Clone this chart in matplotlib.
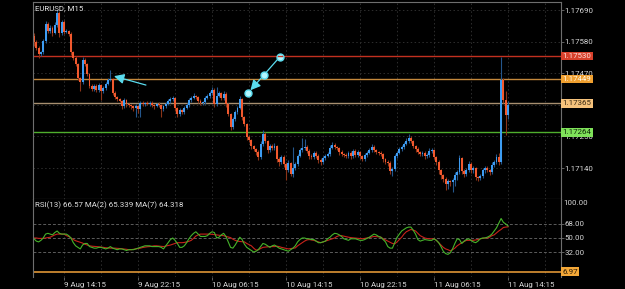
import numpy as np
import matplotlib
matplotlib.use("Agg")
import matplotlib.pyplot as plt
import matplotlib.transforms as mtransforms

plt.rcParams["font.family"] = ["Roboto", "DejaVu Sans"]

# ---- data (EURUSD M15) ----
first_open = 1.17600
closes = [
    1.17579, 1.17558, 1.17537, 1.17544, 1.17582, 1.17641, 1.17617, 1.17628, 1.17610, 1.17638, 1.17680, 1.17610, 1.17648, 1.17614, 1.17617, 1.17607,
    1.17544, 1.17523, 1.17502, 1.17454, 1.17440, 1.17516, 1.17502, 1.17467, 1.17426, 1.17415, 1.17426, 1.17412, 1.17429, 1.17408, 1.17419, 1.17433,
    1.17447, 1.17450, 1.17401, 1.17387, 1.17380, 1.17374, 1.17356, 1.17377, 1.17363, 1.17360, 1.17356, 1.17349, 1.17356, 1.17346, 1.17367, 1.17363,
    1.17367, 1.17363, 1.17367, 1.17360, 1.17356, 1.17363, 1.17360, 1.17346, 1.17356, 1.17363, 1.17374, 1.17380, 1.17384, 1.17349, 1.17328, 1.17342,
    1.17335, 1.17349, 1.17360, 1.17377, 1.17384, 1.17391, 1.17387, 1.17374, 1.17367, 1.17370, 1.17384, 1.17391, 1.17401, 1.17412, 1.17363, 1.17391,
    1.17401, 1.17384, 1.17398, 1.17363, 1.17328, 1.17283, 1.17311, 1.17335, 1.17349, 1.17380, 1.17318, 1.17293, 1.17248, 1.17238, 1.17217, 1.17206,
    1.17196, 1.17179, 1.17224, 1.17259, 1.17234, 1.17203, 1.17217, 1.17210, 1.17217, 1.17172, 1.17161, 1.17179, 1.17154, 1.17133, 1.17158, 1.17119,
    1.17140, 1.17154, 1.17182, 1.17203, 1.17210, 1.17213, 1.17200, 1.17182, 1.17179, 1.17193, 1.17182, 1.17168, 1.17161, 1.17175, 1.17182, 1.17189,
    1.17210, 1.17220, 1.17213, 1.17210, 1.17196, 1.17189, 1.17186, 1.17182, 1.17193, 1.17182, 1.17200, 1.17186, 1.17196, 1.17182, 1.17172, 1.17186,
    1.17193, 1.17203, 1.17213, 1.17203, 1.17196, 1.17193, 1.17189, 1.17172, 1.17161, 1.17158, 1.17130, 1.17137, 1.17182, 1.17193, 1.17206, 1.17213,
    1.17224, 1.17234, 1.17245, 1.17234, 1.17217, 1.17206, 1.17196, 1.17189, 1.17193, 1.17182, 1.17186, 1.17200, 1.17203, 1.17179, 1.17161, 1.17133,
    1.17116, 1.17102, 1.17085, 1.17095, 1.17092, 1.17099, 1.17116, 1.17126, 1.17175, 1.17130, 1.17119, 1.17133, 1.17154, 1.17133, 1.17140, 1.17109,
    1.17106, 1.17113, 1.17133, 1.17140, 1.17133, 1.17126, 1.17151, 1.17161, 1.17179, 1.17161, 1.17447, 1.17377, 1.17325, 1.17360,
]
# wick lengths beyond the body, in points (0.00001)
wick_up = [
    10, 6, 8, 5, 6, 12, 8, 10, 6, 9, 10, 5, 8, 6, 7, 5,
    6, 5, 8, 5, 4, 9, 6, 5, 4, 6, 5, 8, 6, 4, 7, 6,
    8, 31, 5, 6, 4, 5, 4, 8, 5, 4, 3, 5, 6, 4, 7, 5,
    4, 6, 5, 7, 4, 5, 6, 4, 5, 6, 7, 8, 7, 5, 4, 6,
    5, 6, 8, 7, 6, 9, 5, 4, 6, 5, 7, 6, 8, 10, 6, 31,
    7, 5, 9, 6, 5, 4, 8, 6, 7, 10, 5, 4, 3, 6, 4, 5,
    4, 6, 9, 12, 8, 5, 7, 6, 9, 5, 6, 8, 5, 6, 9, 4,
    73, 6, 8, 7, 35, 30, 9, 5, 6, 8, 5, 6, 7, 6, 8, 7,
    9, 12, 6, 5, 4, 6, 5, 7, 6, 5, 8, 6, 7, 5, 4, 6,
    7, 8, 10, 6, 5, 4, 6, 5, 4, 6, 5, 7, 8, 6, 9, 7,
    8, 10, 12, 6, 5, 4, 6, 5, 7, 5, 6, 9, 8, 5, 4, 6,
    5, 4, 6, 7, 5, 8, 9, 6, 12, 5, 6, 8, 9, 6, 7, 5,
    4, 6, 8, 7, 6, 5, 9, 8, 10, 12, 80, 5, 30, 12,
]
wick_dn = [
    15, 8, 14, 6, 8, 5, 7, 6, 9, 5, 6, 15, 6, 8, 5, 6,
    10, 6, 7, 8, 32, 6, 5, 8, 6, 7, 5, 6, 8, 30, 5, 6,
    5, 4, 8, 6, 7, 5, 9, 6, 10, 8, 12, 9, 31, 14, 28, 6,
    8, 5, 7, 6, 9, 5, 8, 28, 6, 7, 5, 8, 6, 9, 10, 7,
    8, 6, 5, 7, 6, 5, 8, 6, 9, 7, 6, 5, 6, 5, 12, 6,
    5, 8, 6, 9, 7, 10, 8, 6, 7, 5, 9, 8, 10, 7, 9, 8,
    10, 12, 8, 6, 7, 9, 8, 7, 6, 10, 12, 8, 9, 34, 7, 8,
    10, 8, 6, 5, 7, 6, 8, 9, 7, 6, 8, 10, 9, 7, 6, 5,
    6, 5, 8, 7, 9, 6, 8, 7, 6, 9, 7, 8, 6, 9, 8, 7,
    6, 5, 7, 8, 6, 9, 7, 10, 8, 9, 12, 17, 8, 6, 5, 7,
    6, 5, 7, 8, 6, 9, 7, 8, 6, 9, 7, 6, 8, 9, 10, 12,
    14, 12, 21, 18, 15, 34, 20, 16, 8, 10, 9, 7, 8, 10, 9, 12,
    10, 8, 7, 9, 8, 10, 7, 6, 8, 9, 6, 10, 70, 15,
]
rsi_ma2 = [
    49, 46, 45, 47, 50, 55, 56, 55, 54, 57, 59, 56, 55, 55, 55, 53,
    50, 44, 40, 38, 36, 41, 43, 43, 39, 38, 37, 37, 38, 38, 37, 36,
    37, 39, 37, 36, 35, 36, 36, 35, 34, 35, 35, 35, 36, 37, 38, 39,
    40, 40, 40, 39, 39, 39, 39, 38, 36, 40, 44, 48, 50, 47, 43, 38,
    38, 40, 44, 49, 53, 56, 58, 55, 52, 52, 52, 53, 56, 58, 57, 50,
    51, 54, 56, 52, 45, 38, 37, 41, 46, 51, 48, 42, 38, 36, 34, 32,
    33, 35, 39, 43, 42, 40, 38, 40, 41, 39, 37, 36, 35, 34, 33, 35,
    37, 40, 45, 48, 50, 50, 49, 49, 48, 48, 46, 44, 44, 45, 46, 49,
    51, 54, 56, 55.5, 54, 52, 49, 48, 47, 49, 49, 49, 48, 47, 47, 48,
    49.5, 51, 53, 55, 54, 52, 51, 48, 45, 39, 37, 37, 44, 51, 55, 59,
    61, 63, 64, 64, 60, 55, 48, 46, 47, 48, 47.5, 47, 47, 49, 47, 44,
    39, 33, 30, 29, 31, 36, 43, 49, 48, 43, 46, 48, 49, 47, 45, 44,
    46, 49, 50, 50, 51, 52.5, 55, 59, 63, 69, 75, 70, 68, 65.34,
]
rsi_ma7 = [
    50, 50, 49.5, 49.5, 49.5, 50, 50.5, 51, 52.5, 54, 55, 55, 55, 55, 53, 52,
    50, 48, 46.5, 45.5, 44.5, 43.5, 42, 41, 40, 39.5, 39.3, 39, 38.7, 38.3, 38, 37.5,
    37.2, 37, 37, 37, 36.8, 36.5, 36.2, 36, 35.5, 35, 35, 35.5, 36, 36.5, 37, 37.8,
    38.3, 38.8, 39, 39.5, 40, 40, 39.6, 39.3, 39, 39.7, 40.5, 41, 42, 43, 44, 44,
    44, 44.3, 45, 45.7, 47, 49.5, 52.5, 54, 55, 55, 55, 55, 55, 54.7, 54.3, 54,
    53.5, 53.3, 53, 52, 51.3, 50.5, 48.5, 47, 46, 45.5, 45.3, 45, 43, 41.5, 40, 37,
    34.5, 35, 36.5, 38, 38.3, 38.7, 39, 39, 39, 39.5, 39, 38, 37.3, 36.5, 36, 36.4,
    36.8, 37.3, 40, 42, 44, 46, 47.5, 48, 47.5, 47, 46, 45, 44, 45, 46, 47,
    48, 49, 50, 52, 53, 53, 52.3, 51.5, 51, 50.5, 50.2, 50, 49.6, 49.2, 49, 49.5,
    50, 50.5, 51.3, 52, 51.8, 51.5, 51, 49, 47.5, 46, 44.5, 43, 42.5, 45, 48, 51,
    55, 58, 59.5, 61, 60, 59, 56, 53, 51.5, 50, 49.3, 49, 49, 49, 47, 44,
    41, 38, 36, 35, 33.5, 35, 37, 40, 42, 44, 45.5, 47, 47, 47, 47, 47.5,
    48, 49, 49.5, 50, 50, 51, 53, 54, 56.5, 59, 61, 63.5, 64, 64.32,
]

time_ticks = [13, 45, 77, 109, 141, 173, 205]
time_labels = ["9 Aug 14:15", "9 Aug 22:15", "10 Aug 06:15", "10 Aug 14:15",
               "10 Aug 22:15", "11 Aug 06:15", "11 Aug 14:15"]
price_ticks = [1.17690, 1.17580, 1.17470, 1.17360, 1.17250, 1.17140]
levels = [1.17530, 1.17449, 1.17365, 1.17264]
rsi_levels = [68, 50, 32]
rsi_extra = 6.97

# drawn objects (candle index, price)
arrow_tip = (34.6, 1.17460)
arrow_tail = (48.4, 1.17429)
trend_pts_x = [92.4, 99.3, 106.4]
trend_pts_y = [1.17400, 1.17463, 1.17528]

# ---- styles ----
bg = "#000000"
bull, bear = "#3d9cf2", "#f2592e"
bull_wick, bear_wick = "#24568c", "#8a3418"
spine_c = "#6e6e6e"
grid_c = "#2e2e2e"
txt_c = "#d6d6d6"
cyan = "#5adcef"
level_line_c = ["#c2301f", "#c4883c", "#a88f70", "#4fae2d"]
level_box_c = ["#d8402b", "#f0a030", "#f5c27c", "#7fe25a"]
level_txt_c = ["#ffe2dc", "#fff6e6", "#3a2a12", "#0f2a08"]
fs = 5.7

closes = np.array(closes)
opens = np.concatenate([[first_open], closes[:-1]])
highs = np.maximum(opens, closes) + np.array(wick_up) * 1e-5
lows = np.minimum(opens, closes) - np.array(wick_dn) * 1e-5
idx = np.arange(len(closes))
up = closes >= opens

fig = plt.figure(figsize=(6.25, 2.89), dpi=100, facecolor=bg)
W, H = 625.0, 289.0
ax = fig.add_axes([33 / W, 1 - 199 / H, 528 / W, 197 / H], facecolor=bg)
ax_rsi = fig.add_axes([33 / W, 1 - 277 / H, 528 / W, 78 / H], facecolor=bg, sharex=ax)

# ---- main price panel ----
for p in price_ticks:
    ax.axhline(p, color=grid_c, lw=0.7, ls=(0, (1.5, 2.5)), zorder=0.5)
for t in range(13, 228, 16):
    ax.axvline(t, color=grid_c, lw=0.7, ls=(0, (1.5, 2.5)), zorder=0.5)
    ax_rsi.axvline(t, color=grid_c, lw=0.7, ls=(0, (1.5, 2.5)), zorder=0.5)

for lv, c in zip(levels, level_line_c):
    ax.axhline(lv, color=c, lw=1.0, zorder=1.5)

ax.vlines(idx, lows, highs, colors=np.where(up, bull_wick, bear_wick), lw=0.8, zorder=2)
body = np.maximum(np.abs(closes - opens), 0.000015)
ax.bar(idx, body, bottom=np.minimum(opens, closes), width=0.85,
       color=np.where(up, bull, bear), linewidth=0, zorder=2.2)

ax.annotate("", xy=arrow_tip, xytext=arrow_tail,
            arrowprops=dict(arrowstyle="-|>,head_length=0.6,head_width=0.3",
                            color=cyan, lw=0.9, shrinkA=0, shrinkB=0), zorder=3)
ax.annotate("", xy=(trend_pts_x[0], trend_pts_y[0]), xytext=(trend_pts_x[2], trend_pts_y[2]),
            arrowprops=dict(arrowstyle="-|>,head_length=0.6,head_width=0.3",
                            color=cyan, lw=0.9, shrinkA=0, shrinkB=3), zorder=3)
ax.plot(trend_pts_x, trend_pts_y, "o", ms=5, mfc="#b4f6ff", mec=cyan, mew=1.0, zorder=3.2)
ax.plot([trend_pts_x[2] - 0.9, trend_pts_x[2] + 0.9], [levels[0], levels[0]],
        color=level_line_c[0], lw=1.0, zorder=3.3)

ax.set_xlim(-0.43, 227.9)
ax.set_ylim(1.170325, 1.17718)
ax.yaxis.tick_right()
ax.set_yticks(price_ticks)
# 1.17360 sits fully under the 1.17365 price box in the original
ax.set_yticklabels(["" if abs(p - 1.17360) < 1e-7 else f"{p:.5f}" for p in price_ticks])
ax.tick_params(axis="y", colors=spine_c, labelcolor=txt_c, length=2, width=0.6, pad=0.5, labelsize=fs)
ax.tick_params(axis="x", bottom=False, labelbottom=False)
for s in ax.spines.values():
    s.set_color(spine_c)
    s.set_linewidth(0.8)

bt = mtransforms.blended_transform_factory(ax.transAxes, ax.transData)
for lv, fc, tc in zip(levels, level_box_c, level_txt_c):
    ax.text(1.003, lv, f"{lv:.5f}", transform=bt, ha="left", va="center", fontsize=fs,
            color=tc, zorder=5, clip_on=False,
            bbox=dict(boxstyle="square,pad=0.15", fc=fc, ec="none"))

ax.text(0.004, 0.985, "EURUSD, M15", transform=ax.transAxes, ha="left", va="top",
        fontsize=fs, color="#e6e6e6")

# ---- RSI panel ----
for lv in rsi_levels:
    ax_rsi.axhline(lv, color="#5c5c5c", lw=0.7, ls=(0, (3, 2)), zorder=0.8)
ax_rsi.axhline(rsi_extra, color="#f2a33a", lw=1.1, zorder=1)
ax_rsi.plot(idx, rsi_ma7, color="#c8231b", lw=0.8, zorder=2)
ax_rsi.plot(idx, rsi_ma2, color="#45b32a", lw=0.8, zorder=2.1)

ax_rsi.set_ylim(0, 100)
ax_rsi.yaxis.tick_right()
ax_rsi.set_yticks(rsi_levels)
ax_rsi.set_yticklabels([f"{v:.2f}" for v in rsi_levels])
ax_rsi.tick_params(axis="y", colors=spine_c, labelcolor=txt_c, length=2, width=0.6, pad=0.5, labelsize=fs)
ax_rsi.set_xticks(time_ticks)
ax_rsi.set_xticklabels(time_labels, ha="left")
ax_rsi.tick_params(axis="x", colors=spine_c, labelcolor=txt_c, length=2, width=0.6, pad=1.5, labelsize=fs)
for name, s in ax_rsi.spines.items():
    s.set_color(spine_c)
    s.set_linewidth(0.8)
    if name in ("top", "bottom"):
        s.set_visible(False)

ax_rsi.text(1.004, 0.95, "100.00", transform=ax_rsi.transAxes, ha="left", va="center",
            fontsize=fs, color=txt_c)
brt = mtransforms.blended_transform_factory(ax_rsi.transAxes, ax_rsi.transData)
ax_rsi.text(1.003, rsi_extra, "6.97", transform=brt, ha="left", va="center", fontsize=fs,
            color="#2a1a05", zorder=5, clip_on=False,
            bbox=dict(boxstyle="square,pad=0.15", fc="#f4a838", ec="none"))
ax_rsi.text(0.004, 0.975, "RSI(13) 66.57 MA(2) 65.339 MA(7) 64.318", transform=ax_rsi.transAxes,
            ha="left", va="top", fontsize=fs, color="#e0e0e0")

fig.savefig("out.png", dpi=100, facecolor=bg)
